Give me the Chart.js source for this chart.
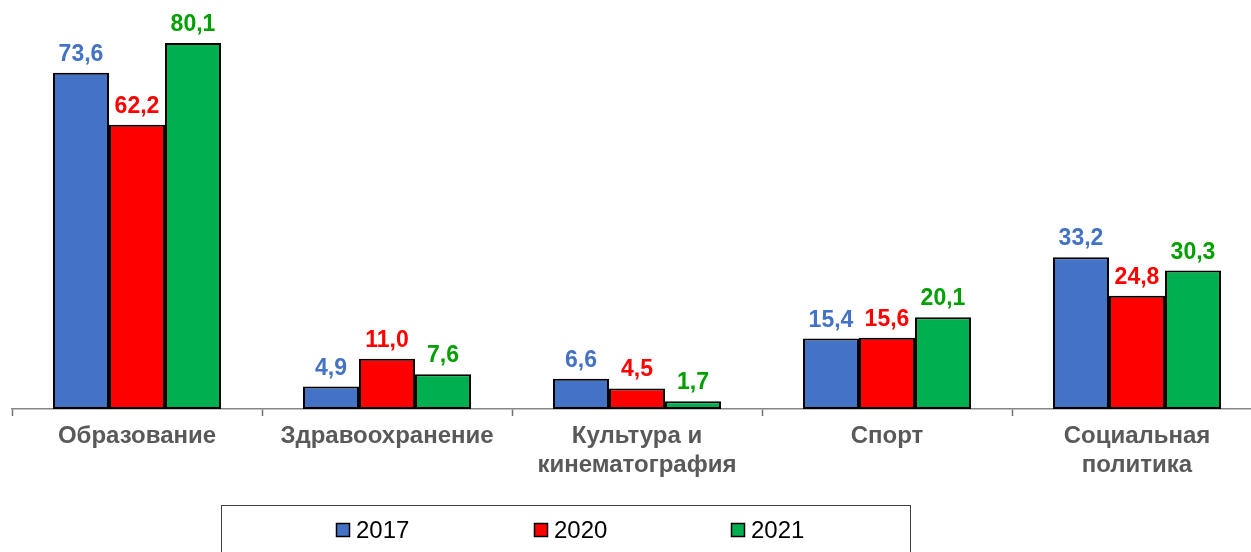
<!DOCTYPE html>
<html><head><meta charset="utf-8">
<script src="https://cdn.jsdelivr.net/npm/chart.js@4"></script>
<style>
html,body{margin:0;padding:0;overflow:hidden;background:#fff;width:1251px;height:552px;}
#wrap{position:absolute;left:0;top:0;width:1262px;height:552px;}
</style></head><body>
<div id="wrap"><canvas id="c"></canvas></div>
<script>
const categories = ["Образование", "Здравоохранение", ["Культура и", "кинематография"], "Спорт", ["Социальная", "политика"]];
const seriesNames = ["2017", "2020", "2021"];
const values2017 = [73.6, 4.9, 6.6, 15.4, 33.2];
const values2020 = [62.2, 11.0, 4.5, 15.6, 24.8];
const values2021 = [80.1, 7.6, 1.7, 20.1, 30.3];
const barColors = ["#4472C4", "#FF0000", "#00B050"];
const labelColors = ["#4472C4", "#FF0000", "#00A000"];

const fmt = v => v.toFixed(1).replace('.', ',');

const dataLabels = {
  id: 'dataLabels',
  afterDatasetsDraw(chart) {
    const ctx = chart.ctx;
    ctx.save();
    ctx.font = 'bold 23px "Liberation Sans", Arial, sans-serif';
    ctx.textAlign = 'center';
    ctx.textBaseline = 'alphabetic';
    chart.data.datasets.forEach((ds, i) => {
      const meta = chart.getDatasetMeta(i);
      ctx.fillStyle = labelColors[i];
      meta.data.forEach((bar, j) => {
        ctx.fillText(fmt(ds.data[j]), bar.x, bar.y - 12);
      });
    });
    ctx.restore();
  }
};

const boxLegend = {
  id: 'boxLegend',
  afterDraw(chart) {
    const ctx = chart.ctx;
    ctx.save();
    ctx.strokeStyle = '#404040';
    ctx.lineWidth = 1;
    ctx.strokeRect(221.5, 505.5, 689, 60);
    const xs = [336, 534, 731];
    ctx.font = '24px "Liberation Sans", Arial, sans-serif';
    ctx.textBaseline = 'middle';
    ctx.textAlign = 'left';
    chart.data.datasets.forEach((ds, i) => {
      ctx.fillStyle = ds.backgroundColor;
      ctx.fillRect(xs[i], 523, 14, 14);
      ctx.strokeStyle = '#000';
      ctx.lineWidth = 1.5;
      ctx.strokeRect(xs[i] + 0.5, 523.5, 13, 13);
      ctx.fillStyle = '#000';
      ctx.fillText(ds.label, xs[i] + 20, 531);
    });
    ctx.restore();
  }
};

const mk = (i, data) => ({
  label: seriesNames[i], data,
  backgroundColor: barColors[i], borderColor: '#000', borderWidth: 2,
  borderSkipped: false, barPercentage: 1.0, categoryPercentage: 0.672
});

new Chart(document.getElementById('c'), {
  type: 'bar',
  data: { labels: categories, datasets: [mk(0, values2017), mk(1, values2020), mk(2, values2021)] },
  options: {
    responsive: true, maintainAspectRatio: false, animation: false,
    layout: { padding: { left: 12, right: 0, top: 0, bottom: 0 } },
    plugins: { legend: { display: false }, tooltip: { enabled: false } },
    scales: {
      x: {
        grid: { display: true, drawOnChartArea: false, drawTicks: true, tickLength: 7, tickWidth: 1.5, tickColor: '#707070', color: '#707070', offset: true },
        border: { display: true, color: '#868686', width: 1.5 },
        ticks: { color: '#595959', font: { family: '"Liberation Sans", Arial, sans-serif', size: 24, weight: 'bold', lineHeight: 1.2 }, padding: 6, maxRotation: 0, autoSkip: false },
        afterFit: s => { s.height = 143; }
      },
      y: { display: false, min: 0, max: 89.5 }
    }
  },
  plugins: [dataLabels, boxLegend]
});
</script></body></html>
